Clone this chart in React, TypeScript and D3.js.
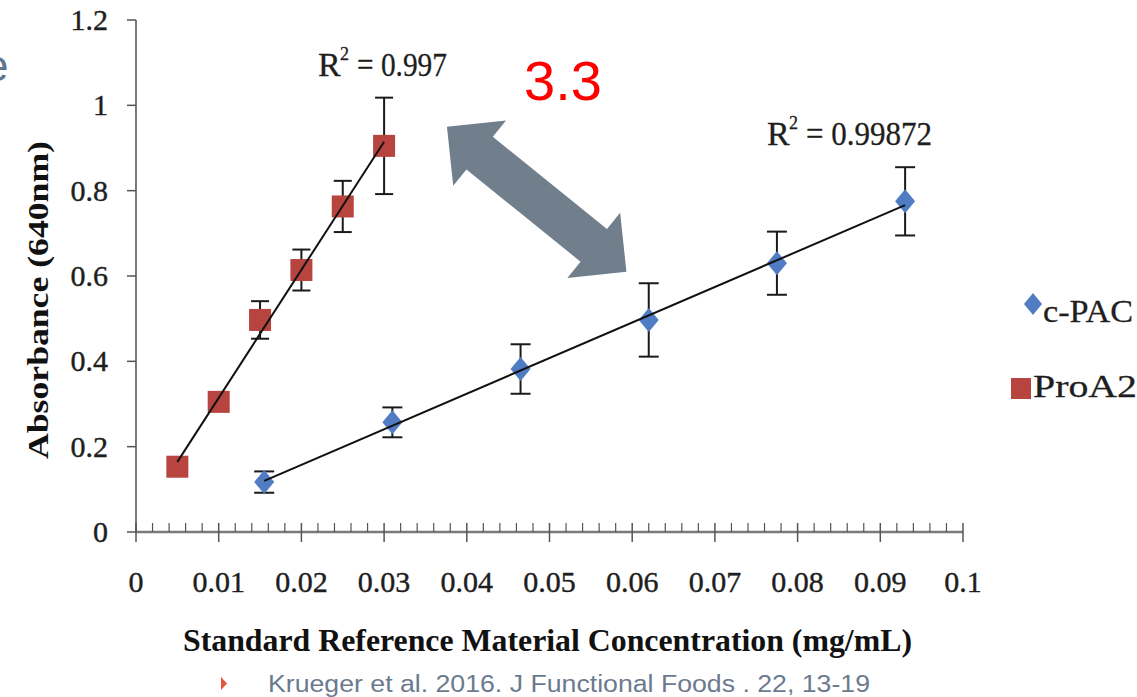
import React from "react";
import * as d3 from "d3";

// ---- data ----
const proX = [0.005, 0.01, 0.015, 0.02, 0.025, 0.03];
const proY = [0.153, 0.305, 0.497, 0.614, 0.763, 0.905];
const proErr = [0, 0, 0.044, 0.048, 0.06, 0.113];

const pacX = [0.0155, 0.031, 0.0465, 0.062, 0.0775, 0.093];
const pacY = [0.117, 0.257, 0.382, 0.497, 0.63, 0.775];
const pacErr = [0.025, 0.035, 0.058, 0.086, 0.074, 0.08];

const xTicks = [0, 0.01, 0.02, 0.03, 0.04, 0.05, 0.06, 0.07, 0.08, 0.09, 0.1];
const xTickLabels = ["0", "0.01", "0.02", "0.03", "0.04", "0.05", "0.06", "0.07", "0.08", "0.09", "0.1"];
const yTicks = [0, 0.2, 0.4, 0.6, 0.8, 1, 1.2];
const yTickLabels = ["0", "0.2", "0.4", "0.6", "0.8", "1", "1.2"];

const seriesNames = ["c-PAC", "ProA2"];
const r2Labels = ["0.99872", "0.997"];
const ratioLabel = "3.3";
const citation = "Krueger et al. 2016. J Functional Foods . 22, 13-19";
const xTitle = "Standard Reference Material Concentration (mg/mL)";
const yTitle = "Absorbance (640nm)";

// arrow annotation endpoints in data units
const arrowFrom = [0.0376, 0.95];
const arrowTo = [0.0593, 0.61];

function regress(xs: number[], ys: number[]) {
  const mx = d3.mean(xs)!;
  const my = d3.mean(ys)!;
  let sxy = 0, sxx = 0;
  xs.forEach((x, i) => {
    sxy += (x - mx) * (ys[i] - my);
    sxx += (x - mx) * (x - mx);
  });
  const b = sxy / sxx;
  return { b, a: my - b * mx };
}

const SERIF = "'Liberation Serif', 'Times New Roman', serif";
const SANS = "'Liberation Sans', Arial, sans-serif";

export default function App() {
  const x = d3.scaleLinear().domain([0, 0.1]).range([136, 963]);
  const y = d3.scaleLinear().domain([0, 1.2]).range([532, 20]);

  const minorTicks = d3.range(0, 0.1 + 1e-9, 0.002).filter((v) => Math.abs(v / 0.01 - Math.round(v / 0.01)) > 1e-6);

  const proFit = regress(proX, proY);
  const pacFit = regress(pacX, pacY);
  const line = d3.line<[number, number]>().x((d) => x(d[0])).y((d) => y(d[1]));
  const proLine = line([
    [proX[0], proFit.a + proFit.b * proX[0]],
    [proX[proX.length - 1], proFit.a + proFit.b * proX[proX.length - 1]],
  ]);
  const pacLine = line([
    [pacX[0], pacFit.a + pacFit.b * pacX[0]],
    [pacX[pacX.length - 1], pacFit.a + pacFit.b * pacX[pacX.length - 1]],
  ]);

  // arrow polygon
  const A = [x(arrowFrom[0]), y(arrowFrom[1])];
  const B = [x(arrowTo[0]), y(arrowTo[1])];
  const len = Math.hypot(B[0] - A[0], B[1] - A[1]);
  const u = [(B[0] - A[0]) / len, (B[1] - A[1]) / len];
  const n = [-u[1], u[0]];
  const L = 42, H = 42, W = 21;
  const P = (base: number[], along: number, side: number) => [
    base[0] + u[0] * along + n[0] * side,
    base[1] + u[1] * along + n[1] * side,
  ];
  const arrowPts = [
    A,
    P(A, L, H),
    P(A, L, W),
    P(B, -L, W),
    P(B, -L, H),
    B,
    P(B, -L, -H),
    P(B, -L, -W),
    P(A, L, -W),
    P(A, L, -H),
  ];
  const arrowPath = "M" + arrowPts.map((p) => p.join(",")).join("L") + "Z";

  const diamond = (cx: number, cy: number, hw: number, hh: number) =>
    `M${cx},${cy - hh}L${cx + hw},${cy}L${cx},${cy + hh}L${cx - hw},${cy}Z`;

  const blue = "#4f7cc2";
  const red = "#b8443f";
  const errColor = "#1a1a1a";
  const txt = "#1e1e1e";

  return (
    <svg width={1137} height={697} style={{ position: "absolute", left: 0, top: 0, background: "#fff" }}>
      <rect width={1137} height={697} fill="#fff" />
      {/* clipped title fragment */}
      <text x={-16} y={81} fontFamily={SANS} fontSize={44} fill="#5f7591">e</text>

      {/* y axis */}
      <line x1={x(0)} x2={x(0)} y1={y(1.2)} y2={y(0)} stroke="#7a7a7a" strokeWidth={2} />
      {yTicks.map((t, i) => (
        <g key={"yt" + i}>
          <line x1={x(0) - 9} x2={x(0)} y1={y(t)} y2={y(t)} stroke="#555" strokeWidth={1.5} />
          <text x={108} y={y(t) + 10} textAnchor="end" fontFamily={SERIF} fontSize={30} fill={txt} stroke={txt} strokeWidth={0.4}>
            {yTickLabels[i]}
          </text>
        </g>
      ))}

      {/* x axis */}
      <line x1={x(0)} x2={x(0.1)} y1={y(0)} y2={y(0)} stroke="#7a7a7a" strokeWidth={2.5} />
      {minorTicks.map((t, i) => (
        <line key={"mt" + i} x1={x(t)} x2={x(t)} y1={y(0) - 9} y2={y(0)} stroke="#555" strokeWidth={1.2} />
      ))}
      {xTicks.map((t, i) => (
        <g key={"xt" + i}>
          <line x1={x(t)} x2={x(t)} y1={y(0) - 9} y2={y(0) + 10} stroke="#555" strokeWidth={1.5} />
          <text x={x(t)} y={592} textAnchor="middle" fontFamily={SERIF} fontSize={30} fill={txt} stroke={txt} strokeWidth={0.4}>
            {xTickLabels[i]}
          </text>
        </g>
      ))}

      {/* axis titles */}
      <text
        transform={`translate(48,300) rotate(-90)`}
        textAnchor="middle"
        fontFamily={SERIF}
        fontWeight="bold"
        fontSize={29}
        fill="#111"
        textLength={318}
        lengthAdjust="spacingAndGlyphs"
      >
        {yTitle}
      </text>
      <text
        x={183}
        y={651}
        fontFamily={SERIF}
        fontWeight="bold"
        fontSize={31}
        fill="#111"
        textLength={729}
        lengthAdjust="spacingAndGlyphs"
      >
        {xTitle}
      </text>

      {/* error bars */}
      {proX.map((v, i) =>
        proErr[i] > 0 ? (
          <g key={"pe" + i} stroke={errColor} strokeWidth={2}>
            <line x1={x(v)} x2={x(v)} y1={y(proY[i] + proErr[i])} y2={y(proY[i] - proErr[i])} />
            <line x1={x(v) - 9} x2={x(v) + 9} y1={y(proY[i] + proErr[i])} y2={y(proY[i] + proErr[i])} />
            <line x1={x(v) - 9} x2={x(v) + 9} y1={y(proY[i] - proErr[i])} y2={y(proY[i] - proErr[i])} />
          </g>
        ) : null
      )}
      {pacX.map((v, i) => (
        <g key={"ce" + i} stroke={errColor} strokeWidth={2}>
          <line x1={x(v)} x2={x(v)} y1={y(pacY[i] + pacErr[i])} y2={y(pacY[i] - pacErr[i])} />
          <line x1={x(v) - 10} x2={x(v) + 10} y1={y(pacY[i] + pacErr[i])} y2={y(pacY[i] + pacErr[i])} />
          <line x1={x(v) - 10} x2={x(v) + 10} y1={y(pacY[i] - pacErr[i])} y2={y(pacY[i] - pacErr[i])} />
        </g>
      ))}

      {/* markers */}
      {proX.map((v, i) => (
        <rect key={"pm" + i} x={x(v) - 11} y={y(proY[i]) - 11} width={22} height={22} fill={red} />
      ))}
      {pacX.map((v, i) => (
        <path key={"cm" + i} d={diamond(x(v), y(pacY[i]), 10, 12)} fill={blue} />
      ))}

      {/* trend lines */}
      <path d={proLine!} stroke="#111" strokeWidth={2} fill="none" />
      <path d={pacLine!} stroke="#111" strokeWidth={2} fill="none" />

      {/* R² labels */}
      <g fontFamily={SERIF} fill={txt} stroke={txt} strokeWidth={0.3}>
        <text x={318} y={76} fontSize={34}>R</text>
        <text x={340} y={60} fontSize={18}>2</text>
        <text x={357} y={76} fontSize={34} textLength={90} lengthAdjust="spacingAndGlyphs">{"= " + r2Labels[1]}</text>
        <text x={767} y={145} fontSize={34}>R</text>
        <text x={789} y={129} fontSize={18}>2</text>
        <text x={806} y={145} fontSize={34} textLength={126} lengthAdjust="spacingAndGlyphs">{"= " + r2Labels[0]}</text>
      </g>

      {/* arrow + ratio */}
      <path d={arrowPath} fill="#717f8d" />
      <text x={524} y={100} fontFamily={SANS} fontSize={56} fill="#ff0000">{ratioLabel}</text>

      {/* legend */}
      <path d={diamond(1033, 304, 9, 11)} fill={blue} />
      <text x={1043} y={322} fontFamily={SERIF} fontSize={32} fill={txt} stroke={txt} strokeWidth={0.3} textLength={90} lengthAdjust="spacingAndGlyphs">
        {seriesNames[0]}
      </text>
      <rect x={1011} y={378} width={20} height={21} fill={red} />
      <text x={1033} y={397} fontFamily={SERIF} fontSize={32} fill={txt} stroke={txt} strokeWidth={0.3} textLength={104} lengthAdjust="spacingAndGlyphs">
        {seriesNames[1]}
      </text>

      {/* citation */}
      <path d="M221,677L227,683.5L221,690Z" fill="#e8553e" />
      <text x={268} y={692} fontFamily={SANS} fontSize={23} fill="#6b7a8e" textLength={602} lengthAdjust="spacingAndGlyphs">
        {citation}
      </text>
    </svg>
  );
}
